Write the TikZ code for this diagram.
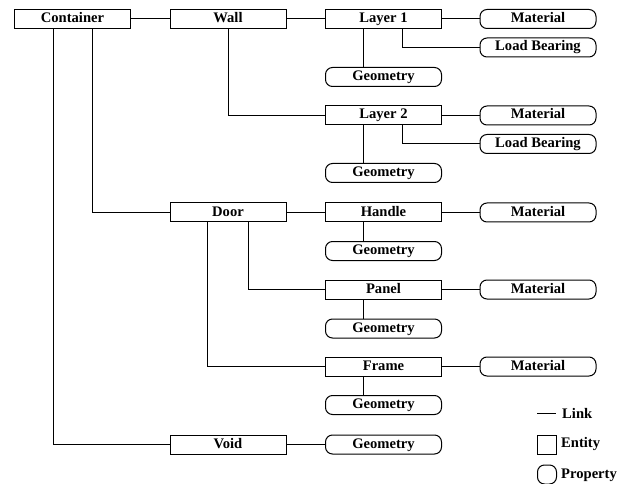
\documentclass[tikz,border=0pt]{standalone}
\usepackage{fontspec}
\setmainfont{Liberation Serif}
\begin{document}
\begin{tikzpicture}[x=1pt,y=-1pt,
  every node/.style={font=\fontsize{14.6}{17}\selectfont\bfseries, inner sep=0pt},
  entity/.style={draw, line width=1pt, minimum width=116pt, minimum height=19pt, text height=10pt, text depth=3pt},
  prop/.style={draw, line width=1pt, rounded corners=7pt, minimum width=116pt, minimum height=19pt, text height=10pt, text depth=3pt},
  link/.style={line width=1pt}]
\useasboundingbox (0,0) rectangle (627,484);
% column 1/2
\node[entity] (cont) at (72.5,19) {Container};
\node[entity] (wall) at (228,19) {Wall};
\node[entity] (door) at (228,212.5) {Door};
\node[entity] (void) at (228,444.5) {Void};
% column 3
\node[entity] (l1) at (383.5,19) {Layer 1};
\node[prop] (geo1) at (383.5,77) {Geometry};
\node[entity] (l2) at (383.5,115.5) {Layer 2};
\node[prop] (geo2) at (383.5,173) {Geometry};
\node[entity] (handle) at (383.5,212.5) {Handle};
\node[prop] (geoh) at (383.5,251) {Geometry};
\node[entity] (panel) at (383.5,289.5) {Panel};
\node[prop] (geop) at (383.5,328.5) {Geometry};
\node[entity] (frame) at (383.5,366.5) {Frame};
\node[prop] (geof) at (383.5,405) {Geometry};
\node[prop] (geov) at (383.5,444.5) {Geometry};
% column 4
\node[prop] (mat1) at (538,19) {Material};
\node[prop] (lb1) at (538,47.5) {Load Bearing};
\node[prop] (mat2) at (538,115.5) {Material};
\node[prop] (lb2) at (538,144) {Load Bearing};
\node[prop] (math) at (538,212.5) {Material};
\node[prop] (matp) at (538,289.5) {Material};
\node[prop] (matf) at (538,366.5) {Material};
% links
\draw[link] (cont.east) -- (wall.west);
\draw[link] (wall.east) -- (l1.west);
\draw[link] (l1.east) -- (mat1.west);
\draw[link] ([xshift=-20.5pt]l1.south) -- ([xshift=-20.5pt]geo1.north);
\draw[link] ([xshift=18.5pt]l1.south) |- (lb1.west);
\draw[link] (wall.south) |- (l2.west);
\draw[link] (l2.east) -- (mat2.west);
\draw[link] ([xshift=-20.5pt]l2.south) -- ([xshift=-20.5pt]geo2.north);
\draw[link] ([xshift=18.5pt]l2.south) |- (lb2.west);
\draw[link] ([xshift=19.5pt]cont.south) |- (door.west);
\draw[link] ([xshift=-19.5pt]cont.south) |- (void.west);
\draw[link] (door.east) -- (handle.west);
\draw[link] (handle.east) -- (math.west);
\draw[link] ([xshift=-20.5pt]handle.south) -- ([xshift=-20.5pt]geoh.north);
\draw[link] ([xshift=20pt]door.south) |- (panel.west);
\draw[link] (panel.east) -- (matp.west);
\draw[link] ([xshift=-20.5pt]panel.south) -- ([xshift=-20.5pt]geop.north);
\draw[link] ([xshift=-21pt]door.south) |- (frame.west);
\draw[link] (frame.east) -- (matf.west);
\draw[link] ([xshift=-20.5pt]frame.south) -- ([xshift=-20.5pt]geof.north);
\draw[link] (void.east) -- (geov.west);
% legend
\coordinate (lka) at (537,413);
\coordinate (lkb) at (556,413);
\draw[link] (lka) -- (lkb);
\node[anchor=west] (lkt) at (562,413) {Link};
\node[draw, line width=1pt, minimum width=19pt, minimum height=19pt] (les) at (547,444.5) {};
\node[anchor=west] (let) at (561,444.5) {Entity};
\node[draw, line width=1pt, rounded corners=7pt, minimum width=19pt, minimum height=19pt] (lps) at (547,474.5) {};
\node[anchor=west] (lpt) at (561,475) {Property};
\end{tikzpicture}
\end{document}
